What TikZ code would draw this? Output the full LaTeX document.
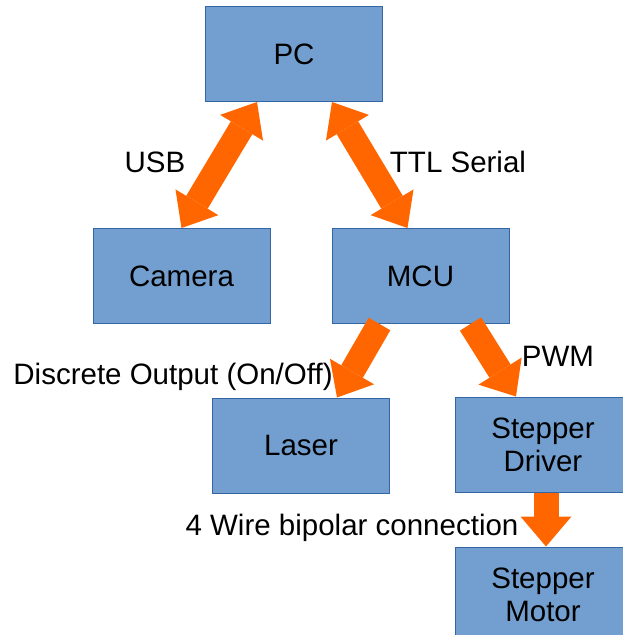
\documentclass[tikz,border=0pt]{standalone}
\usepackage{fontspec}
\setmainfont{Liberation Sans}
\usetikzlibrary{arrows.meta,calc}
\definecolor{boxfill}{HTML}{729FCF}
\definecolor{boxline}{HTML}{3465A4}
\definecolor{arrorange}{HTML}{FF6600}
\tikzset{
  blockbox/.style={draw=boxline, fill=boxfill, line width=1pt, rectangle,
    minimum width=177pt, minimum height=95pt, inner sep=0pt, align=center,
    font=\fontsize{29.5}{33}\selectfont},
  lbl/.style={inner sep=0pt, font=\fontsize{29.5}{33}\selectfont},
  twoway/.style={draw=arrorange, line width=25pt,
    {Triangle[width=50pt,length=30pt,line width=0pt]}-{Triangle[width=50pt,length=30pt,line width=0pt]}},
  oneway/.style={draw=arrorange, line width=25pt,
    -{Triangle[width=51pt,length=30pt,line width=0pt]}}
}
\begin{document}
\begin{tikzpicture}[x=1pt,y=-1pt]
\useasboundingbox (0,0) rectangle (622,635);
\node[blockbox] (pc) at (294,54) {PC};
\node[blockbox] (cam) at (181.5,276) {Camera};
\node[blockbox] (mcu) at (420.5,276) {MCU};
\node[blockbox] (laser) at (301,445.5) {Laser};
\node[blockbox, minimum width=176pt] (drv) at (543,444.5) {Stepper\\Driver};
\node[blockbox, minimum width=176pt] (mot) at (543,594.5) {Stepper\\Motor};

\draw[twoway] (cam.north) -- ($(pc.south)+(-37,0)$);
\draw[twoway] ($(pc.south)+(38,0)$) -- ($(mcu.north)+(-13,0)$);
\draw[oneway] ($(mcu.south)+(-41,0)$) -- ($(laser.north)+(36,0)$);
\draw[oneway] ($(mcu.south)+(50,0)$) -- ($(drv.north)+(-27,0)$);
\draw[oneway] ($(drv.south)+(3,0)$) -- ($(mot.north)+(3,0)$);

\node[lbl] (usb) at (155,162) {USB};
\node[lbl] (ttl) at (458,162) {TTL Serial};
\node[lbl] (disc) at (173,377) {Discrete Output (On/Off)};
\node[lbl] (pwm) at (558,356) {PWM};
\node[lbl] (wire) at (352,528) {4 Wire bipolar connection};
\end{tikzpicture}
\end{document}
